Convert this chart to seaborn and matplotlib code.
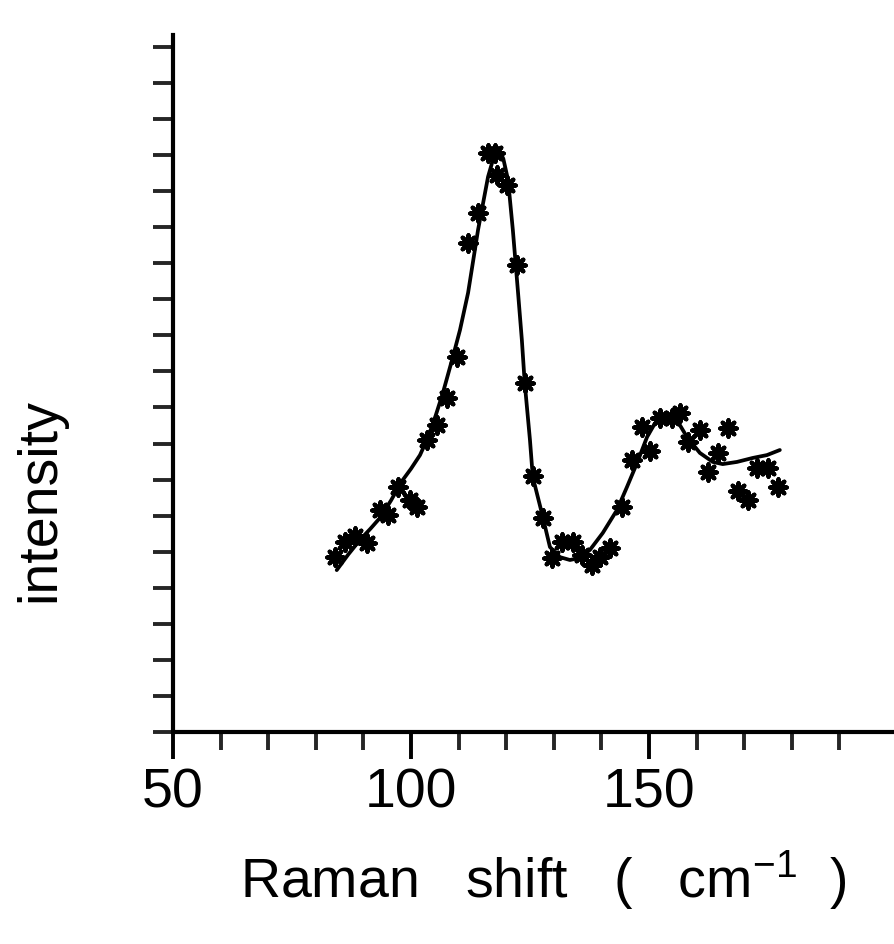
import matplotlib
matplotlib.use('Agg')
import matplotlib.pyplot as plt
import seaborn as sns
from matplotlib.ticker import FixedLocator, NullFormatter

# measured points (asterisks)
shift_pts = [84.0, 86.1, 88.2, 90.7, 93.5, 95.2, 97.3, 99.8, 101.2, 103.3,
             105.4, 107.5, 109.6, 112.0, 114.1, 116.2, 117.6, 118.0, 120.1, 122.2,
             123.9, 125.7, 127.8, 129.6, 131.7, 134.1, 135.9, 138.0, 139.7, 141.8,
             144.3, 146.4, 148.5, 150.2, 152.3, 154.8, 156.5, 158.3, 160.7, 162.5,
             164.6, 166.7, 168.8, 170.9, 172.6, 175.1, 177.2]
intensity_pts = [4.86, 5.28, 5.44, 5.23, 6.16, 6.02, 6.80, 6.44, 6.25, 8.10,
                 8.52, 9.26, 10.41, 13.56, 14.39, 16.05, 16.06, 15.45, 15.17, 12.95,
                 9.67, 7.10, 5.93, 4.82, 5.28, 5.28, 4.91, 4.63, 4.86, 5.10,
                 6.25, 7.55, 8.47, 7.78, 8.70, 8.70, 8.84, 8.05, 8.38, 7.22,
                 7.73, 8.42, 6.67, 6.44, 7.31, 7.31, 6.80]

# fitted curve
fit_shift = [84.4, 86.8, 89.3, 91.5, 93.5, 95.8, 98.0, 100.0, 101.9, 103.6,
             105.2, 106.7, 108.8, 110.3, 112.0, 114.1, 116.2, 117.4, 118.3, 119.4,
             120.4, 121.4, 122.5, 123.3, 123.9, 125.0, 125.6, 127.5, 129.2, 131.3,
             133.4, 135.5, 137.6, 140.3, 143.3, 145.4, 147.5, 149.6, 151.3, 153.8,
             156.1, 158.0, 160.7, 163.4, 165.5, 168.5, 171.8, 174.8, 177.5]
fit_intensity = [4.49, 4.92, 5.33, 5.64, 5.94, 6.42, 6.94, 7.30, 7.68, 8.18,
                 8.78, 9.40, 10.40, 11.15, 12.18, 13.93, 15.40, 15.95, 16.20, 15.90,
                 15.31, 13.93, 12.18, 10.87, 9.68, 8.10, 7.07, 6.07, 5.13, 4.85,
                 4.77, 4.83, 5.05, 5.52, 6.16, 6.80, 7.46, 8.18, 8.57, 8.71,
                 8.60, 8.18, 7.74, 7.49, 7.43, 7.49, 7.60, 7.68, 7.82]

x_major = [50, 100, 150]
x_major_labels = ['50', '100', '150']
x_minor = [60, 70, 80, 90, 110, 120, 130, 140, 160, 170, 180, 190]
y_ticks = list(range(0, 20))

sns.set_theme(style='white')
plt.rcParams['font.family'] = ['Liberation Sans', 'DejaVu Sans']
plt.rcParams['mathtext.default'] = 'regular'

fig = plt.figure(figsize=(8.95, 9.44), dpi=100)
fig.patch.set_facecolor('white')
ax = fig.add_axes([173 / 895, 212 / 944, 722 / 895, 697 / 944])
ax.set_facecolor('white')

sns.lineplot(x=fit_shift, y=fit_intensity, sort=False, estimator=None,
             color='black', linewidth=2.7, ax=ax)
sns.scatterplot(x=shift_pts, y=intensity_pts, marker=(8, 2, 0), s=140,
                color='black', linewidth=3.0, ax=ax, zorder=3)

ax.set_xlim(50, 201.7)
ax.set_ylim(0, 19.33)

ax.xaxis.set_major_locator(FixedLocator(x_major))
ax.set_xticklabels(x_major_labels)
ax.xaxis.set_minor_locator(FixedLocator(x_minor))
ax.yaxis.set_major_locator(FixedLocator(y_ticks))
ax.yaxis.set_major_formatter(NullFormatter())

for s in ['top', 'right']:
    ax.spines[s].set_visible(False)
for s in ['left', 'bottom']:
    ax.spines[s].set_linewidth(3.0)
    ax.spines[s].set_color('black')

ax.tick_params(axis='x', which='major', direction='out', length=19.5, width=2.8,
               pad=6, labelsize=40, colors='black', bottom=True)
ax.tick_params(axis='x', which='minor', direction='out', length=13, width=2.8,
               bottom=True)
ax.tick_params(axis='y', which='major', direction='out', length=14.5, width=2.8,
               left=True)
ax.set_xlabel('')
ax.set_ylabel('')

fig.text(543 / 895, 1 - 880 / 944, 'Raman   shift   (   cm$^{-1}$  )',
         ha='center', va='center', fontsize=40, color='black')
fig.text(40 / 895, 1 - 500 / 944, 'intensity', rotation=90,
         ha='center', va='center', fontsize=40, color='black')

fig.savefig('out.png', dpi=100, facecolor='white')
